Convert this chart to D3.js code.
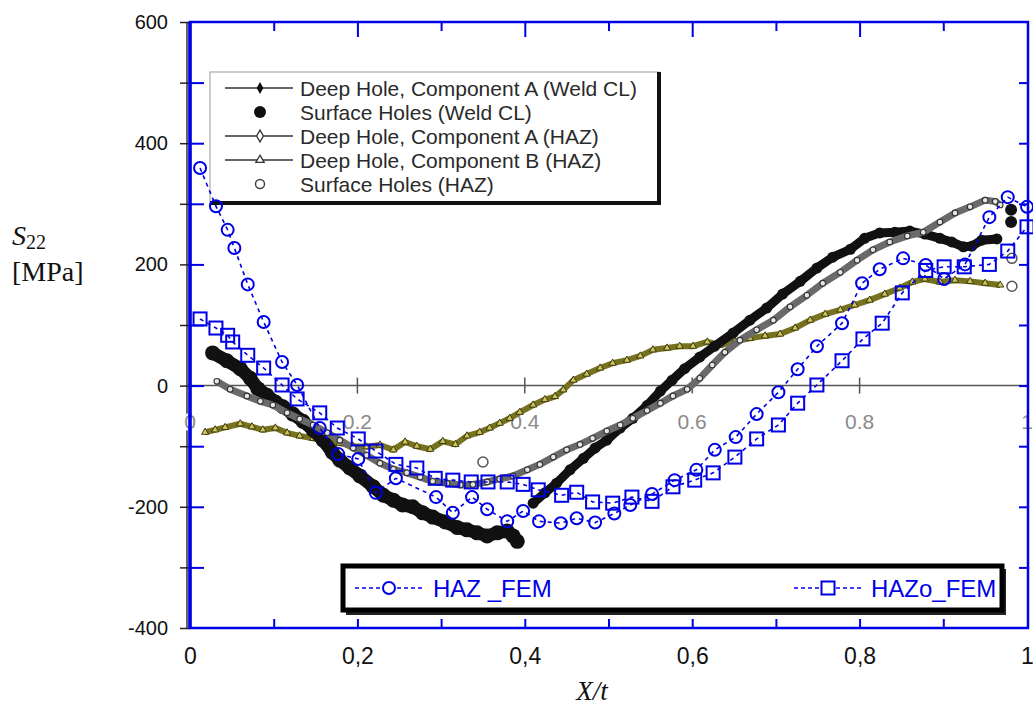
<!DOCTYPE html>
<html lang="en">
<head>
<meta charset="UTF-8">
<title>S22 through-thickness profile</title>
<script src="https://d3js.org/d3.v7.min.js"></script>
<style>
  body { margin: 0; background: #fff; }
  svg text { font-family: Arial, "Liberation Sans", sans-serif; }
</style>
</head>
<body>
<div id="chart"></div>
<script>
// ---- data (X/t, S22 in MPa) ----
const hazFem = [[0.012,359],[0.031,296],[0.045,257],[0.053,227],[0.069,167],[0.088,105],[0.110,39],[0.128,1],
  [0.155,-70],[0.177,-113],[0.201,-121],[0.222,-177],[0.246,-153],[0.294,-184],[0.314,-210],[0.337,-184],
  [0.355,-204],[0.379,-224],[0.398,-207],[0.417,-224],[0.443,-227],[0.462,-219],[0.484,-226],[0.507,-211],
  [0.526,-197],[0.552,-179],[0.579,-156],[0.605,-139],[0.627,-106],[0.652,-85],[0.677,-47],[0.703,-11],
  [0.726,27],[0.749,65],[0.779,103],[0.803,169],[0.824,192],[0.852,210],[0.879,199],[0.901,176],[0.926,200],
  [0.955,278],[0.977,311],[1.0,295]];

const hazoFem = [[0.012,110],[0.031,95],[0.045,83],[0.051,72],[0.069,50],[0.088,29],[0.110,1],[0.128,-22],
  [0.155,-45],[0.176,-70],[0.201,-88],[0.222,-108],[0.246,-130],[0.271,-136],[0.293,-153],[0.314,-156],
  [0.336,-159],[0.356,-159],[0.379,-159],[0.398,-163],[0.416,-172],[0.444,-181],[0.462,-176],[0.481,-192],
  [0.505,-194],[0.528,-184],[0.552,-191],[0.577,-167],[0.603,-156],[0.625,-144],[0.651,-118],[0.677,-88],
  [0.703,-65],[0.726,-29],[0.749,1],[0.779,41],[0.804,77],[0.827,103],[0.851,153],[0.879,190],[0.901,196],
  [0.925,196],[0.955,200],[0.977,222],[1.0,262]];

// Deep Hole, Component A (Weld CL) - two measured runs
const deepAWeld1 = [[0.027,54],[0.044,41],[0.060,28],[0.072,12],[0.081,-5],[0.092,-16],[0.102,-27],[0.111,-35],
  [0.123,-47],[0.135,-59],[0.147,-73],[0.159,-90],[0.170,-110],[0.179,-123],[0.191,-136],[0.203,-149],
  [0.219,-167],[0.231,-181],[0.243,-189],[0.254,-197],[0.266,-200],[0.278,-210],[0.290,-217],[0.305,-225],
  [0.319,-234],[0.331,-238],[0.343,-243],[0.355,-248],[0.367,-243],[0.379,-240],[0.386,-248],[0.391,-257]];
const deepAWeld2 = [[0.410,-194],[0.424,-177],[0.438,-161],[0.454,-139],[0.470,-120],[0.484,-103],[0.498,-90],
  [0.514,-70],[0.529,-54],[0.546,-33],[0.562,-9],[0.576,9],[0.591,28],[0.609,47],[0.627,65],[0.649,87],
  [0.669,108],[0.689,128],[0.708,151],[0.729,172],[0.749,194],[0.768,212],[0.789,225],[0.806,243],[0.824,252],
  [0.842,253],[0.860,255],[0.878,250],[0.896,243],[0.910,237],[0.924,229],[0.934,230],[0.946,240],[0.964,242]];

const surfWeld = [[0.981,290],[0.981,270]];

const deepAHaz = [[0.032,7],[0.048,-6],[0.068,-17],[0.084,-26],[0.099,-32],[0.116,-45],[0.131,-55],[0.147,-65],
  [0.164,-78],[0.179,-90],[0.195,-103],[0.211,-115],[0.227,-128],[0.243,-138],[0.259,-144],[0.275,-151],
  [0.290,-158],[0.307,-161],[0.323,-164],[0.338,-163],[0.355,-159],[0.370,-154],[0.386,-149],[0.403,-139],
  [0.418,-130],[0.434,-118],[0.450,-106],[0.466,-97],[0.481,-87],[0.498,-75],[0.514,-65],[0.529,-54],
  [0.546,-41],[0.562,-29],[0.577,-17],[0.594,-6],[0.609,12],[0.624,34],[0.639,55],[0.657,75],[0.677,92],
  [0.697,108],[0.717,130],[0.737,149],[0.756,169],[0.777,187],[0.797,207],[0.816,224],[0.836,237],[0.857,247],
  [0.876,253],[0.896,270],[0.914,285],[0.932,295],[0.950,306],[0.962,304],[0.968,298]];

const deepBHaz = [[0.018,-77],[0.030,-73],[0.042,-69],[0.060,-63],[0.074,-68],[0.087,-73],[0.102,-70],[0.116,-78],
  [0.131,-83],[0.147,-87],[0.164,-92],[0.179,-95],[0.195,-100],[0.211,-101],[0.227,-98],[0.243,-106],
  [0.257,-93],[0.271,-100],[0.287,-105],[0.302,-92],[0.317,-97],[0.331,-83],[0.346,-77],[0.358,-70],
  [0.370,-62],[0.382,-54],[0.394,-44],[0.410,-32],[0.424,-23],[0.436,-18],[0.446,-7],[0.458,9],[0.474,19],
  [0.490,29],[0.505,37],[0.522,42],[0.538,49],[0.553,59],[0.570,62],[0.585,65],[0.601,65],[0.618,72],
  [0.633,67],[0.651,73],[0.669,78],[0.687,82],[0.705,85],[0.723,95],[0.741,108],[0.759,118],[0.777,125],
  [0.794,133],[0.812,141],[0.830,151],[0.848,161],[0.863,171],[0.878,176],[0.896,171],[0.914,174],
  [0.932,172],[0.950,169],[0.968,166]];

const surfHaz = [[0.350,-126],[0.982,210],[0.982,164]];

const yTicks = [-400, -200, 0, 200, 400, 600];
const xTickLabels = ["0", "0,2", "0,4", "0,6", "0,8", "1"];
const innerXLabels = ["0", "0.2", "0.4", "0.6", "0.8", "1"];
const expLegend = ["Deep Hole, Component A (Weld CL)", "Surface Holes (Weld CL)",
  "Deep Hole, Component A (HAZ)", "Deep Hole, Component B (HAZ)", "Surface Holes (HAZ)"];
const femLegend = ["HAZ _FEM", "HAZo_FEM"];

// ---- setup ----
const W = 1033, H = 706;
const BLUE = "#0000e6";
const svg = d3.select("#chart").append("svg").attr("width", W).attr("height", H);

const x = d3.scaleLinear().domain([0, 1]).range([190, 1027]);
const y = d3.scaleLinear().domain([-400, 600]).range([628, 22]);
const line = d3.line().x(d => x(d[0])).y(d => y(d[1]));

// ---- embedded experimental plot (inner axes) ----
svg.append("line").attr("x1", 187).attr("x2", 187).attr("y1", 22).attr("y2", 628)
  .attr("stroke", "#333").attr("stroke-width", 1.5);

const outerTicks = svg.append("g").attr("transform", "translate(190,0)")
  .call(d3.axisLeft(y).tickValues(d3.range(-400, 601, 100)).tickSize(10).tickPadding(12)
    .tickFormat(d => yTicks.includes(d) ? d : ""));
outerTicks.select(".domain").remove();
outerTicks.selectAll("line").attr("stroke", "#222").attr("stroke-width", 1.5);
outerTicks.selectAll("text").attr("font-size", 20).attr("fill", "#111");

const zeroY = y(0);
svg.append("line").attr("x1", 188).attr("x2", 1028).attr("y1", zeroY).attr("y2", zeroY)
  .attr("stroke", "#555").attr("stroke-width", 1.5);
svg.selectAll(".innerTick").data([0.2, 0.4, 0.6, 0.8]).join("line")
  .attr("x1", d => x(d)).attr("x2", d => x(d)).attr("y1", zeroY - 8).attr("y2", zeroY + 8)
  .attr("stroke", "#555").attr("stroke-width", 1.5);
svg.selectAll(".innerLabel").data(innerXLabels).join("text")
  .attr("x", (d, i) => x(i * 0.2)).attr("y", zeroY + 43)
  .attr("text-anchor", "middle").attr("font-size", 21).attr("fill", "#8a8a8a")
  .attr("stroke", "#fff").attr("stroke-width", 4).attr("paint-order", "stroke")
  .text(d => d);

// Deep Hole B (HAZ) - olive band
svg.append("path").datum(deepBHaz).attr("d", line).attr("fill", "none")
  .attr("stroke", "#77721f").attr("stroke-width", 6).attr("stroke-linejoin", "round");
svg.selectAll(".triB").data(deepBHaz).join("path")
  .attr("transform", d => `translate(${x(d[0])},${y(d[1])})`)
  .attr("d", d3.symbol(d3.symbolTriangle, 22))
  .attr("fill", "#cfc65a").attr("stroke", "#2e2c0c").attr("stroke-width", 0.9);

// Deep Hole A (Weld CL) - black band
[[deepAWeld1, 13], [deepAWeld2, 9]].forEach(([seg, w]) => {
  svg.append("path").datum(seg).attr("d", line).attr("fill", "none")
    .attr("stroke", "#111").attr("stroke-width", w)
    .attr("stroke-linejoin", "round").attr("stroke-linecap", "round");
  svg.selectAll(null).data(seg).join("circle")
    .attr("cx", d => x(d[0])).attr("cy", d => y(d[1])).attr("r", w / 2 + 1).attr("fill", "#111");
});

// Deep Hole A (HAZ) - grey open markers
svg.append("path").datum(deepAHaz).attr("d", line).attr("fill", "none")
  .attr("stroke", "#6a6a6a").attr("stroke-width", 7).attr("stroke-linejoin", "round");
svg.selectAll(".circA").data(deepAHaz).join("circle")
  .attr("cx", d => x(d[0])).attr("cy", d => y(d[1])).attr("r", 2.8)
  .attr("fill", "#e6e6e6").attr("stroke", "#333").attr("stroke-width", 1.1);

// surface holes
svg.selectAll(".surfW").data(surfWeld).join("circle")
  .attr("cx", d => x(d[0])).attr("cy", d => y(d[1])).attr("r", 6).attr("fill", "#111");
svg.selectAll(".surfH").data(surfHaz).join("circle")
  .attr("cx", d => x(d[0])).attr("cy", d => y(d[1])).attr("r", 5)
  .attr("fill", "#fff").attr("stroke", "#555").attr("stroke-width", 1.5);

// ---- legend of experimental data ----
const lg = svg.append("g");
lg.append("rect").attr("x", 210).attr("y", 72).attr("width", 449).attr("height", 131)
  .attr("fill", "#fff").attr("stroke", "#999").attr("stroke-width", 1);
lg.append("path").attr("d", "M659,72 V203 H210").attr("fill", "none")
  .attr("stroke", "#111").attr("stroke-width", 4);
expLegend.forEach((t, i) => {
  const ry = 88 + i * 24;
  if (i !== 1 && i !== 4) {
    lg.append("line").attr("x1", 225).attr("x2", 293).attr("y1", ry).attr("y2", ry)
      .attr("stroke", "#333").attr("stroke-width", 1.4);
  }
  if (i === 0) lg.append("path").attr("transform", `translate(260,${ry})`)
    .attr("d", d3.symbol(d3.symbolDiamond, 40)).attr("fill", "#111");
  if (i === 1) lg.append("circle").attr("cx", 260).attr("cy", ry).attr("r", 6).attr("fill", "#111");
  if (i === 2) lg.append("path").attr("transform", `translate(260,${ry})`)
    .attr("d", d3.symbol(d3.symbolDiamond, 40)).attr("fill", "#fff").attr("stroke", "#333").attr("stroke-width", 1.3);
  if (i === 3) lg.append("path").attr("transform", `translate(260,${ry})`)
    .attr("d", d3.symbol(d3.symbolTriangle, 30)).attr("fill", "#fff").attr("stroke", "#333").attr("stroke-width", 1.3);
  if (i === 4) lg.append("circle").attr("cx", 260).attr("cy", ry).attr("r", 4.5)
    .attr("fill", "#fff").attr("stroke", "#444").attr("stroke-width", 1.5);
  lg.append("text").attr("x", 300).attr("y", ry).attr("dy", "0.36em")
    .attr("font-size", 21).attr("fill", "#2a2a2a").text(t);
});

// ---- FEM series ----
function femSeries(data, shape) {
  svg.append("path").datum(data).attr("d", line).attr("fill", "none")
    .attr("stroke", BLUE).attr("stroke-width", 1.6).attr("stroke-dasharray", "4,4");
  const g = svg.append("g");
  if (shape === "circle") {
    g.selectAll("circle").data(data).join("circle")
      .attr("cx", d => x(d[0])).attr("cy", d => y(d[1])).attr("r", 6)
      .attr("fill", "none").attr("stroke", BLUE).attr("stroke-width", 2);
  } else {
    g.selectAll("rect").data(data).join("rect")
      .attr("x", d => x(d[0]) - 6.5).attr("y", d => y(d[1]) - 6.5).attr("width", 13).attr("height", 13)
      .attr("fill", "none").attr("stroke", BLUE).attr("stroke-width", 2);
  }
}
femSeries(hazFem, "circle");
femSeries(hazoFem, "square");

// ---- blue frame and axes ----
const axTop = svg.append("g").attr("transform", "translate(0,22)")
  .call(d3.axisBottom(x).tickValues(d3.range(1, 10).map(i => i / 10)).tickFormat(""));
axTop.select(".domain").remove();
axTop.selectAll("line").attr("y2", (d, i) => (i % 2 === 1 ? 15 : 9));

const axBot = svg.append("g").attr("transform", "translate(0,628)")
  .call(d3.axisTop(x).tickValues(d3.range(1, 10).map(i => i / 10)).tickSize(9).tickFormat(""));
axBot.select(".domain").remove();

const axLeftIn = svg.append("g").attr("transform", "translate(190,0)")
  .call(d3.axisRight(y).tickValues(d3.range(-300, 600, 100)).tickSize(14).tickFormat(""));
axLeftIn.select(".domain").remove();

const axRight = svg.append("g").attr("transform", "translate(1028,0)")
  .call(d3.axisLeft(y).tickValues(d3.range(-300, 600, 100)).tickSize(9).tickFormat(""));
axRight.select(".domain").remove();

[axTop, axBot, axLeftIn, axRight].forEach(a => a.selectAll("line").attr("stroke", BLUE).attr("stroke-width", 2));

svg.append("path").attr("d", "M190,22 H1028 V628 H190 Z").attr("fill", "none")
  .attr("stroke", BLUE).attr("stroke-width", 2.5);
svg.append("line").attr("x1", 190).attr("x2", 190).attr("y1", 22).attr("y2", 628)
  .attr("stroke", BLUE).attr("stroke-width", 3.5);

// x tick labels
const axLab = svg.append("g").attr("transform", "translate(0,628)")
  .call(d3.axisBottom(x).tickValues(d3.range(0, 6).map(i => i / 5)).tickSize(0).tickPadding(20)
    .tickFormat((d, i) => xTickLabels[i]));
axLab.select(".domain").remove();
axLab.selectAll("text").attr("font-size", 23).attr("fill", "#111")
  .style("font-family", "'Liberation Sans Narrow', 'Arial Narrow', Arial, sans-serif");

// ---- FEM legend ----
const fl = svg.append("g");
fl.append("rect").attr("x", 346).attr("y", 569).attr("width", 660).attr("height", 46).attr("fill", "#222");
fl.append("rect").attr("x", 343).attr("y", 566).attr("width", 659).attr("height", 44)
  .attr("fill", "#fff").attr("stroke", "#000").attr("stroke-width", 5);
[[355, 424, 389, 433], [794, 862, 828, 871]].forEach(([a, b, m, tx], i) => {
  fl.append("line").attr("x1", a).attr("x2", b).attr("y1", 588).attr("y2", 588)
    .attr("stroke", BLUE).attr("stroke-width", 1.6).attr("stroke-dasharray", "4,3");
  if (i === 0) fl.append("circle").attr("cx", m).attr("cy", 588).attr("r", 6)
    .attr("fill", "#fff").attr("stroke", BLUE).attr("stroke-width", 2);
  else fl.append("rect").attr("x", m - 6.5).attr("y", 581.5).attr("width", 13).attr("height", 13)
    .attr("fill", "#fff").attr("stroke", BLUE).attr("stroke-width", 2);
  fl.append("text").attr("x", tx).attr("y", 588).attr("dy", "0.36em")
    .attr("font-size", 24).attr("fill", BLUE).text(femLegend[i]);
});

// ---- axis titles ----
const yt = svg.append("text").attr("x", 12).attr("y", 245)
  .style("font-family", "'Liberation Serif', 'Times New Roman', serif").attr("font-size", 28).attr("fill", "#111");
yt.append("tspan").attr("font-style", "italic").text("S");
yt.append("tspan").attr("font-size", 20).attr("dy", 4).text("22");
svg.append("text").attr("x", 12).attr("y", 281)
  .style("font-family", "'Liberation Serif', 'Times New Roman', serif").attr("font-size", 28).attr("fill", "#111")
  .text("[MPa]");
svg.append("text").attr("x", 592).attr("y", 700).attr("text-anchor", "middle")
  .style("font-family", "'Liberation Serif', 'Times New Roman', serif").attr("font-size", 27)
  .attr("font-style", "italic").attr("fill", "#111").text("X/t");
</script>
</body>
</html>
